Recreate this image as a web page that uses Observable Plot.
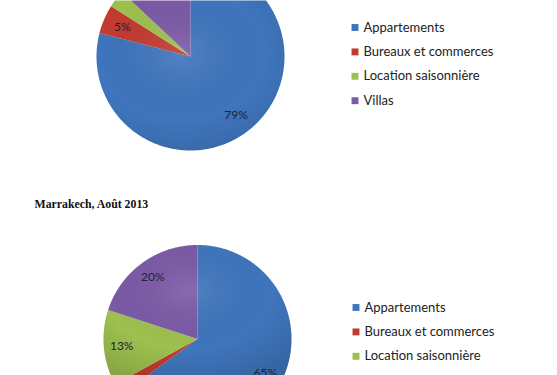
<!DOCTYPE html>
<html>
<head>
<meta charset="utf-8">
<script src="https://cdn.jsdelivr.net/npm/d3@7"></script>
<script src="https://cdn.jsdelivr.net/npm/@observablehq/plot@0.6"></script>
<style>
  html, body { margin: 0; padding: 0; background: #fff; overflow: hidden; }
  #chart svg { display: block; overflow: visible; }
</style>
</head>
<body>
<div id="chart"></div>
<script>
// ---- data ----
const categories = ["Appartements", "Bureaux et commerces", "Location saisonnière", "Villas"];
const topShares = [79, 5, 3, 13];          // upper pie (title cut off above)
const bottomShares = [65, 2, 13, 20];      // Marrakech, Août 2013
const bottomTitle = "Marrakech, Août 2013";
const colors = ["#3F75BD", "#C23B30", "#9DC04E", "#7B5AA6"];

// ---- layout (pixels) ----
const W = 557, H = 375;
const pies = [
  {shares: topShares, cx: 190, cy: 56, r: 94, legendX: 354.5, legendY: 27, labelRadius: 0.79},
  {shares: bottomShares, cx: 197, cy: 338.5, r: 94, legendX: 355.5, legendY: 307, labelRadius: 0.81}
];
const rowGap = 24.4;
const minLabel = 5;

const slices = [], labels = [], legend = [], discs = [];
pies.forEach((p, pi) => {
  const arcs = d3.pie().sort(null).value(d => d.v)(p.shares.map((v, i) => ({v, cat: categories[i]})));
  arcs.forEach(a => {
    const ring = [[p.cx, p.cy]];
    const n = Math.max(2, Math.ceil((a.endAngle - a.startAngle) / (Math.PI / 360)));
    for (let k = 0; k <= n; k++) {
      const t = a.startAngle + (a.endAngle - a.startAngle) * k / n;
      ring.push([p.cx + p.r * Math.sin(t), p.cy - p.r * Math.cos(t)]);
    }
    ring.push([p.cx, p.cy]);
    slices.push({type: "Feature", properties: {cat: a.data.cat}, geometry: {type: "Polygon", coordinates: [ring]}});
    if (a.data.v >= minLabel) {
      const m = (a.startAngle + a.endAngle) / 2;
      labels.push({x: p.cx + p.labelRadius * p.r * Math.sin(m), y: p.cy - p.labelRadius * p.r * Math.cos(m), text: a.data.v + "%"});
    }
  });
  const circ = [];
  for (let k = 0; k <= 360; k++) {
    const t = k * Math.PI / 180;
    circ.push([p.cx + p.r * Math.sin(t), p.cy - p.r * Math.cos(t)]);
  }
  discs.push({type: "Feature", properties: {}, geometry: {type: "Polygon", coordinates: [circ]}});
  categories.forEach((c, i) => legend.push({x: p.legendX, y: p.legendY + i * rowGap, cat: c}));
});

function defs() {
  const ns = "http://www.w3.org/2000/svg";
  const g = document.createElementNS(ns, "defs");
  g.innerHTML = `
    <radialGradient id="shade" cx="0.45" cy="0.35" r="0.75">
      <stop offset="0" stop-color="#fff" stop-opacity="0.10"/>
      <stop offset="0.6" stop-color="#000" stop-opacity="0"/>
      <stop offset="1" stop-color="#000" stop-opacity="0.14"/>
    </radialGradient>`;
  return g;
}

const chart = Plot.plot({
  width: W,
  height: H,
  margin: 0,
  projection: {type: "identity"},
  color: {type: "ordinal", domain: categories, range: colors},
  marks: [
    defs,
    Plot.geo(slices, {fill: d => d.properties.cat, stroke: null}),
    Plot.geo(discs, {fill: "url(#shade)", stroke: null}),
    Plot.text(labels, {x: "x", y: "y", text: "text", fontSize: 12, fill: "#1a2236", fontFamily: "Lato, 'Open Sans', sans-serif"}),
    Plot.dot(legend, {x: "x", y: "y", fill: "cat", symbol: "square", r: 3.9, stroke: null}),
    Plot.text(legend, {x: d => d.x + 8.5, y: "y", text: "cat", textAnchor: "start", fontSize: 13, fill: "#222", fontFamily: "Lato, 'Open Sans', sans-serif"}),
    Plot.text([bottomTitle], {x: () => 34, y: () => 204, text: d => d, textAnchor: "start", fontSize: 11.8, fontWeight: "bold", fill: "#111", fontFamily: "'Liberation Serif', 'Times New Roman', serif"})
  ]
});
document.getElementById("chart").appendChild(chart);
</script>
</body>
</html>
